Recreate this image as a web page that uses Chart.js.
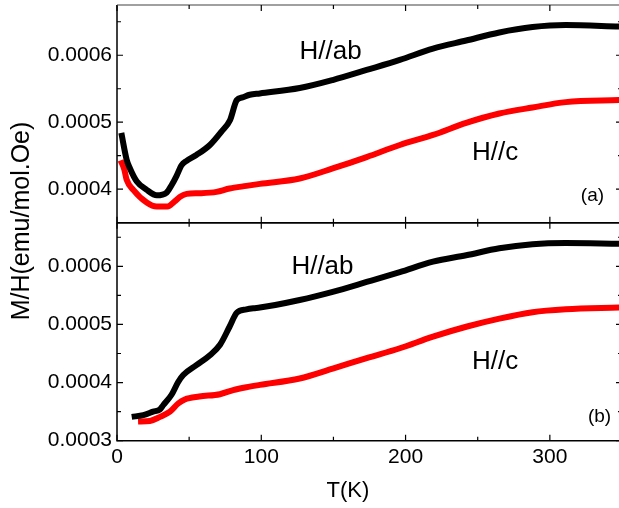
<!DOCTYPE html>
<html>
<head>
<meta charset="utf-8">
<script src="https://cdn.jsdelivr.net/npm/chart.js@4.4.1/dist/chart.umd.min.js"></script>
<style>
html, body { margin: 0; padding: 0; background: #fff; overflow: hidden; }
#wrap { position: relative; width: 619px; height: 508px; overflow: hidden; }
#wrap canvas { position: absolute; left: 0; top: 0; }
</style>
</head>
<body>
<div id="wrap">
<canvas id="panelA" width="624" height="508" style="width:624px;height:508px"></canvas>
<canvas id="panelB" width="624" height="508" style="width:624px;height:508px"></canvas>
</div>
<script>
// panel (a): temperature (K) and M/H (emu/mol.Oe)
var tA_ab = [3, 6.7, 9, 13.6, 20.6, 27.5, 34.4, 37.8, 41.3, 44.8, 48, 55, 64.4, 72.4, 78.3, 83, 87, 92, 99, 126.6, 149.5, 173, 196, 219, 242, 265, 288, 311, 348];
var mA_ab = [0.000484, 0.000444, 0.000431, 0.000412, 0.000399, 0.000391, 0.000395, 0.000406, 0.000420, 0.000436, 0.000442, 0.000451, 0.000466, 0.000486, 0.000503, 0.000533, 0.000537, 0.000541, 0.000543, 0.000551, 0.000563, 0.000578, 0.000593, 0.000610, 0.000622, 0.000634, 0.000642, 0.000645, 0.000643];
var tA_c = [2.5, 5, 6.7, 11.3, 20.6, 27.5, 35, 40, 44, 48.3, 57, 69, 78, 89.7, 99, 126.6, 149.5, 173, 196, 219, 242, 265, 288, 311, 348];
var mA_c = [0.000443, 0.000430, 0.000414, 0.000399, 0.000380, 0.000374, 0.000374, 0.000382, 0.000389, 0.000393, 0.000394, 0.000396, 0.000401, 0.000405, 0.000408, 0.000416, 0.000431, 0.000448, 0.000466, 0.000481, 0.000499, 0.000513, 0.000522, 0.000530, 0.000533];

// panel (b)
var tB_ab = [10.2, 18.2, 25, 29.8, 32, 37.8, 42.4, 45.9, 55, 64.4, 71.4, 78, 83, 89.7, 94.5, 99, 126.6, 149.5, 173, 196, 219, 242, 265, 288, 311, 348];
var mB_ab = [0.000341, 0.000344, 0.000350, 0.000354, 0.000361, 0.000379, 0.000401, 0.000413, 0.000430, 0.000447, 0.000465, 0.000496, 0.000520, 0.000526, 0.000528, 0.000529, 0.000542, 0.000556, 0.000573, 0.000590, 0.000608, 0.000619, 0.000631, 0.000638, 0.000640, 0.000639];
var tB_c = [14.6, 22.8, 29.8, 36.7, 42.4, 47, 57, 71.3, 80.5, 89.7, 99, 126.6, 149.5, 173, 196, 219, 242, 265, 288, 311, 348];
var mB_c = [0.000333, 0.000334, 0.000341, 0.000350, 0.000364, 0.000371, 0.000376, 0.000380, 0.000387, 0.000392, 0.000396, 0.000407, 0.000424, 0.000442, 0.000459, 0.000479, 0.000496, 0.000510, 0.000521, 0.000526, 0.000529];

// axes
var xTicks = [0, 100, 200, 300];
var xMinor = [50, 150, 250, 350];
var yTicksA = [0.0004, 0.0005, 0.0006];
var yMinorA = [0.00045, 0.00055, 0.00065];
var yTicksB = [0.0003, 0.0004, 0.0005, 0.0006];
var yMinorB = [0.00035, 0.00045, 0.00055, 0.00065];

var FONT = '"Liberation Sans", Arial, sans-serif';

function pts(t, m) {
	return t.map(function (x, i) { return { x: x, y: m[i] }; });
}

function series(t, m, color) {
	return {
		data: pts(t, m),
		borderColor: color,
		backgroundColor: color,
		borderWidth: 6,
		pointRadius: 0,
		cubicInterpolationMode: 'monotone',
		borderJoinStyle: 'round',
	};
}

// box with inward ticks on all four sides
var framePlugin = {
	id: 'frame',
	afterDatasetsDraw: function (chart, args, opts) {
		var ctx = chart.ctx, a = chart.chartArea;
		var xs = chart.scales.x, ys = chart.scales.y;
		ctx.save();
		ctx.lineWidth = 1.5;
		ctx.strokeStyle = '#000';
		ctx.beginPath();
		ctx.moveTo(a.left, a.top);
		ctx.lineTo(a.left, a.bottom);
		ctx.lineTo(a.right, a.bottom);
		ctx.lineTo(a.right, a.top);
		ctx.stroke();
		ctx.strokeStyle = opts.topColor || '#000';
		ctx.beginPath();
		ctx.moveTo(a.left, a.top);
		ctx.lineTo(a.right, a.top);
		ctx.stroke();
		ctx.strokeStyle = '#000';
		ctx.lineWidth = 1.2;
		ctx.beginPath();
		function xt(v, len) {
			var p = xs.getPixelForValue(v);
			ctx.moveTo(p, a.bottom); ctx.lineTo(p, a.bottom - len);
			ctx.moveTo(p, a.top); ctx.lineTo(p, a.top + len);
		}
		function yt(v, len) {
			var p = ys.getPixelForValue(v);
			ctx.moveTo(a.left, p); ctx.lineTo(a.left + len, p);
			ctx.moveTo(a.right, p); ctx.lineTo(a.right - len, p);
		}
		xTicks.forEach(function (v) { xt(v, 6); });
		xMinor.forEach(function (v) { xt(v, 4); });
		opts.yMajor.forEach(function (v) { yt(v, 6); });
		opts.yMinor.forEach(function (v) { yt(v, 4); });
		ctx.stroke();
		ctx.restore();
	}
};

// labels placed in data coordinates, plus axis titles
var notePlugin = {
	id: 'notes',
	afterDraw: function (chart, args, opts) {
		var ctx = chart.ctx, a = chart.chartArea;
		ctx.save();
		ctx.fillStyle = '#000';
		ctx.textAlign = 'center';
		ctx.textBaseline = 'middle';
		(opts.items || []).forEach(function (n) {
			ctx.font = n.size + 'px ' + FONT;
			ctx.fillText(n.text, chart.scales.x.getPixelForValue(n.x), chart.scales.y.getPixelForValue(n.y));
		});
		if (opts.titles) {
			ctx.font = '22px ' + FONT;
			ctx.fillText('T(K)', chart.scales.x.getPixelForValue(160), a.bottom + 50);
			ctx.save();
			ctx.translate(22, 221);
			ctx.rotate(-Math.PI / 2);
			ctx.font = '25px ' + FONT;
			ctx.fillText('M/H(emu/mol.Oe)', 0, 0);
			ctx.restore();
		}
		ctx.restore();
	}
};

function yAxis(ticks) {
	return {
		type: 'linear',
		min: ticks === yTicksA ? 0.00035 : 0.0003,
		max: 0.000675,
		grid: { display: false, drawTicks: false },
		border: { display: false },
		afterBuildTicks: function (s) { s.ticks = ticks.map(function (v) { return { value: v }; }); },
		afterFit: function (s) { s.width = 117; s.paddingTop = 0; s.paddingBottom = 0; },
		ticks: {
			color: '#000',
			padding: 5,
			font: { size: 21, family: FONT },
			callback: function (v) { return v.toFixed(4); },
		},
	};
}

var panelA = new Chart(document.getElementById('panelA'), {
	type: 'line',
	data: {
		datasets: [series(tA_ab, mA_ab, '#000000'), series(tA_c, mA_c, '#ff0000')],
	},
	plugins: [framePlugin, notePlugin],
	options: {
		responsive: false,
		animation: false,
		layout: { padding: { left: 0, right: 2, top: 5, bottom: 285.3 } },
		scales: {
			x: { type: 'linear', min: 0, max: 350, display: false },
			y: yAxis(yTicksA),
		},
		plugins: {
			legend: { display: false },
			tooltip: { enabled: false },
			frame: { topColor: '#808080', yMajor: yTicksA, yMinor: yMinorA },
			notes: {
				items: [
					{ text: 'H//ab', x: 148, y: 0.000605, size: 26 },
					{ text: 'H//c', x: 262, y: 0.000455, size: 26 },
					{ text: '(a)', x: 329.5, y: 0.00039, size: 19 },
				],
			},
		},
	},
});

var panelB = new Chart(document.getElementById('panelB'), {
	type: 'line',
	data: {
		datasets: [series(tB_ab, mB_ab, '#000000'), series(tB_c, mB_c, '#ff0000')],
	},
	plugins: [framePlugin, notePlugin],
	options: {
		responsive: false,
		animation: false,
		layout: { padding: { left: 0, right: 2, top: 222.7, bottom: 0 } },
		scales: {
			x: {
				type: 'linear',
				min: 0,
				max: 350,
				grid: { display: false, drawTicks: false },
				border: { display: false },
				afterBuildTicks: function (s) { s.ticks = xTicks.map(function (v) { return { value: v }; }); },
				afterFit: function (s) { s.height = 67.3; },
				ticks: {
					color: '#000',
					padding: 4,
					maxRotation: 0,
					font: { size: 21, family: FONT },
				},
			},
			y: yAxis(yTicksB),
		},
		plugins: {
			legend: { display: false },
			tooltip: { enabled: false },
			frame: { topColor: '#000', yMajor: yTicksB, yMinor: yMinorB },
			notes: {
				titles: true,
				items: [
					{ text: 'H//ab', x: 142.4, y: 0.000599, size: 26 },
					{ text: 'H//c', x: 262, y: 0.000435, size: 26 },
					{ text: '(b)', x: 334.4, y: 0.000342, size: 19 },
				],
			},
		},
	},
});
</script>
</body>
</html>
